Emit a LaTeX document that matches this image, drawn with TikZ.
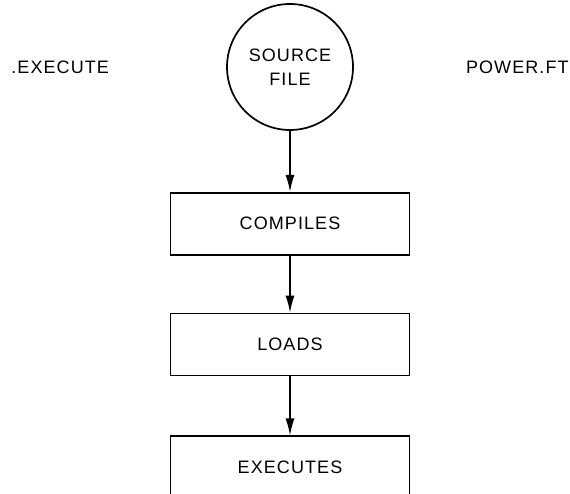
\documentclass[tikz,border=0pt]{standalone}
\usepackage{fontspec}
\setmainfont[LetterSpace=6]{Liberation Sans}
\usepackage{tikz}
\usetikzlibrary{shapes.geometric, arrows.meta, positioning}

\begin{document}
\begin{tikzpicture}[
		x=1pt, y=1pt,
		node distance = 57pt and 57pt,
		font=\fontsize{18}{24}\selectfont,
		filecircle/.style = {circle, draw, line width=1.7pt, minimum size=126pt,
				inner sep=0pt, align=center},
		stepbox/.style = {rectangle, draw, line width=1.8pt, minimum width=239pt,
				minimum height=62pt, inner sep=0pt},
		namelabel/.style = {inner sep=0pt},
		line/.style = {draw, line width=1.5pt, -{Latex[length=17pt, width=9pt]}},
	]
	\useasboundingbox (0,0) rectangle (570,-494);
	\clip (0,0) rectangle (570,-494);

	% Source file
	\node [filecircle] (source) at (290,-67) {SOURCE\\FILE};

	% Side labels
	\node [namelabel, left=117pt of source] (command) {.EXECUTE};
	\node [namelabel, right=112pt of source] (program) {POWER.FT};

	% Steps
	\node [stepbox, below=61pt of source.south, anchor=north] (compiles) {COMPILES};
	\node [stepbox, below=of compiles] (loads) {LOADS};
	\node [stepbox, below=59pt of loads] (executes) {EXECUTES};

	% Draw arrows
	\path [line] (source) -- (compiles);
	\path [line] (compiles) -- (loads);
	\path [line] (loads) -- (executes);

\end{tikzpicture}
\end{document}
